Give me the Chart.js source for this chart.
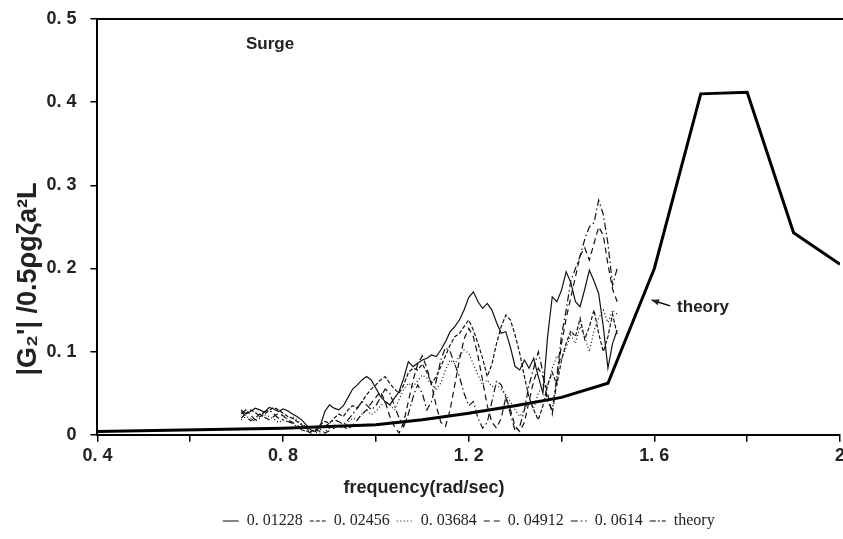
<!DOCTYPE html>
<html>
<head>
<meta charset="utf-8">
<script src="https://cdn.jsdelivr.net/npm/chart.js@4.4.1/dist/chart.umd.min.js"></script>
<style>
  html, body { margin: 0; padding: 0; background: #fff; overflow: hidden; }
  #wrap { width: 848px; height: 539px; }
</style>
</head>
<body>
<div id="wrap"><canvas id="surgeChart" width="848" height="539"></canvas></div>
<script>
// frequencies of the measured curves (rad/sec)
const freqExp = [
  0.71, 0.72, 0.73, 0.74, 0.75, 0.76, 0.77, 0.78, 0.79, 0.80,
  0.81, 0.82, 0.83, 0.84, 0.85, 0.86, 0.87, 0.88, 0.89, 0.90,
  0.91, 0.92, 0.93, 0.94, 0.95, 0.96, 0.97, 0.98, 0.99, 1.00,
  1.01, 1.02, 1.03, 1.04, 1.05, 1.06, 1.07, 1.08, 1.09, 1.10,
  1.11, 1.12, 1.13, 1.14, 1.15, 1.16, 1.17, 1.18, 1.19, 1.20,
  1.21, 1.22, 1.23, 1.24, 1.25, 1.26, 1.27, 1.28, 1.29, 1.30,
  1.31, 1.32, 1.33, 1.34, 1.35, 1.36, 1.37, 1.38, 1.39, 1.40,
  1.41, 1.42, 1.43, 1.44, 1.45, 1.46, 1.47, 1.48, 1.49, 1.50,
  1.51, 1.52
];

const amp01228 = [
  0.030, 0.025, 0.028, 0.032, 0.030, 0.027, 0.033, 0.031, 0.028, 0.031,
  0.029, 0.025, 0.022, 0.018, 0.012, 0.006, 0.004, 0.010, 0.028, 0.036,
  0.032, 0.030, 0.035, 0.045, 0.055, 0.060, 0.066, 0.070, 0.066, 0.056,
  0.046, 0.040, 0.036, 0.044, 0.052, 0.068, 0.088, 0.082, 0.086, 0.090,
  0.092, 0.096, 0.094, 0.102, 0.112, 0.124, 0.130, 0.138, 0.150, 0.165,
  0.172, 0.160, 0.152, 0.158, 0.150, 0.135, 0.122, 0.124, 0.105, 0.082,
  0.078, 0.090, 0.080, 0.092, 0.070, 0.050, 0.118, 0.166, 0.160, 0.174,
  0.196, 0.183, 0.160, 0.154, 0.175, 0.198, 0.185, 0.170, 0.130, 0.080,
  0.110, 0.126
];

const amp02456 = [
  0.020, 0.026, 0.030, 0.027, 0.022, 0.025, 0.029, 0.033, 0.030, 0.026,
  0.022, 0.020, 0.016, 0.012, 0.008, 0.004, 0.006, 0.012, 0.016, 0.014,
  0.020, 0.025, 0.022, 0.030, 0.035, 0.032, 0.040, 0.048, 0.055, 0.060,
  0.066, 0.070, 0.062, 0.055, 0.050, 0.060, 0.075, 0.080, 0.078, 0.085,
  0.075, 0.062, 0.070, 0.082, 0.095, 0.108, 0.118, 0.122, 0.130, 0.138,
  0.126, 0.110, 0.092, 0.070, 0.085, 0.110, 0.130, 0.144, 0.138, 0.120,
  0.098, 0.070, 0.045, 0.030, 0.018, 0.035, 0.060, 0.075, 0.060, 0.090,
  0.110, 0.125, 0.118, 0.140, 0.115, 0.130, 0.150, 0.122, 0.100, 0.118,
  0.145, 0.120
];

const amp03684 = [
  0.018, 0.022, 0.020, 0.016, 0.020, 0.024, 0.022, 0.019, 0.015, 0.017,
  0.020, 0.022, 0.018, 0.013, 0.010, 0.006, 0.003, 0.002, 0.004, 0.008,
  0.012, 0.010, 0.008, 0.015, 0.020, 0.018, 0.025, 0.030, 0.024, 0.028,
  0.035, 0.040, 0.036, 0.030, 0.042, 0.055, 0.062, 0.058, 0.065, 0.072,
  0.068, 0.060, 0.055, 0.062, 0.078, 0.090, 0.085, 0.095, 0.102, 0.098,
  0.085, 0.072, 0.060, 0.066, 0.058, 0.060, 0.055, 0.048, 0.040, 0.030,
  0.022, 0.030, 0.040, 0.032, 0.050, 0.060, 0.058, 0.080, 0.095, 0.090,
  0.105, 0.120, 0.110, 0.130, 0.118, 0.100, 0.125, 0.140, 0.150, 0.135,
  0.150, 0.145
];

const amp04912 = [
  0.028, 0.022, 0.017, 0.020, 0.025, 0.021, 0.018, 0.022, 0.026, 0.023,
  0.018, 0.015, 0.012, 0.008, 0.005, 0.002, 0.006, 0.004, 0.002, 0.005,
  0.008, 0.012, 0.010, 0.006, 0.012, 0.018, 0.025, 0.030, 0.038, 0.045,
  0.052, 0.040, 0.022, 0.010, 0.002, 0.015, 0.040, 0.065, 0.085, 0.095,
  0.080, 0.060, 0.035, 0.015, 0.010, 0.030, 0.060, 0.090, 0.115, 0.128,
  0.118, 0.095, 0.065, 0.035, 0.015, 0.008, 0.020, 0.045, 0.030, 0.010,
  0.004, 0.015, 0.040, 0.065, 0.080, 0.070, 0.050, 0.025, 0.065, 0.110,
  0.140, 0.165, 0.190, 0.215, 0.225, 0.210, 0.230, 0.250, 0.240, 0.205,
  0.175, 0.160
];

const amp0614 = [
  0.025, 0.030, 0.024, 0.018, 0.022, 0.028, 0.030, 0.025, 0.020, 0.018,
  0.016, 0.014, 0.010, 0.006, 0.004, 0.008, 0.010, 0.006, 0.010, 0.014,
  0.018, 0.016, 0.012, 0.018, 0.025, 0.032, 0.040, 0.036, 0.030, 0.035,
  0.045, 0.055, 0.050, 0.035, 0.020, 0.010, 0.025, 0.045, 0.060, 0.050,
  0.030, 0.040, 0.065, 0.090, 0.105, 0.100, 0.085, 0.070, 0.050, 0.035,
  0.040, 0.020, 0.008, 0.015, 0.040, 0.065, 0.060, 0.045, 0.025, 0.005,
  0.010, 0.030, 0.060, 0.080, 0.100, 0.075, 0.040, 0.030, 0.070, 0.120,
  0.150, 0.185, 0.200, 0.215, 0.235, 0.250, 0.255, 0.282, 0.265, 0.230,
  0.180, 0.200
];

// theory curve
const freqTheory = [0.4, 0.8, 1.0, 1.1, 1.2, 1.3, 1.4, 1.5, 1.6, 1.7, 1.8, 1.9, 2.0];
const ampTheory = [0.004, 0.008, 0.012, 0.018, 0.026, 0.035, 0.045, 0.062, 0.200, 0.410, 0.412, 0.243, 0.205];

const seriesNames = ["0. 01228", "0. 02456", "0. 03684", "0. 04912", "0. 0614"];
const seriesValues = [amp01228, amp02456, amp03684, amp04912, amp0614];
const seriesDash = [[], [4, 2], [1, 2.5], [6, 4], [7, 3, 1.5, 3]];

const sans = '"Liberation Sans", Arial, sans-serif';
const serif = '"Liberation Serif", "Times New Roman", serif';

const toPoints = (xs, ys) => xs.map((x, i) => ({ x: x, y: ys[i] }));

const datasets = seriesNames.map((name, i) => ({
  label: name,
  data: toPoints(freqExp, seriesValues[i]),
  borderColor: "#111",
  borderWidth: 1.2,
  borderDash: seriesDash[i],
  pointRadius: 0,
  tension: 0,
  fill: false,
}));

datasets.push({
  label: "theory",
  data: toPoints(freqTheory, ampTheory),
  borderColor: "#000",
  borderWidth: 3,
  pointRadius: 0,
  tension: 0,
  fill: false,
});

// frame line on top plus the "Surge" and "theory" notes
const surgeNotes = {
  id: "surgeNotes",
  afterDatasetsDraw(chart) {
    const { ctx, chartArea, scales } = chart;
    const x = scales.x, y = scales.y;
    ctx.save();
    ctx.strokeStyle = "#000";
    ctx.lineWidth = 2;
    ctx.beginPath();
    ctx.moveTo(chartArea.left, chartArea.top);
    ctx.lineTo(chartArea.right + 10, chartArea.top);
    ctx.stroke();

    ctx.fillStyle = "#222";
    ctx.font = "bold 17px " + sans;
    ctx.textBaseline = "middle";
    ctx.textAlign = "left";
    ctx.fillText("Surge", x.getPixelForValue(0.72), y.getPixelForValue(0.469));
    ctx.fillText("theory", x.getPixelForValue(1.649), y.getPixelForValue(0.153));

    // arrow pointing at the theory line
    const tx = x.getPixelForValue(1.594), ty = y.getPixelForValue(0.162);
    const sx = x.getPixelForValue(1.634), sy = y.getPixelForValue(0.155);
    const ang = Math.atan2(ty - sy, tx - sx);
    ctx.lineWidth = 1.5;
    ctx.beginPath();
    ctx.moveTo(sx, sy);
    ctx.lineTo(tx, ty);
    ctx.stroke();
    ctx.beginPath();
    ctx.moveTo(tx, ty);
    ctx.lineTo(tx - 8 * Math.cos(ang - 0.4), ty - 8 * Math.sin(ang - 0.4));
    ctx.lineTo(tx - 8 * Math.cos(ang + 0.4), ty - 8 * Math.sin(ang + 0.4));
    ctx.closePath();
    ctx.fill();
    ctx.restore();
  }
};

const fmtTick = (v) => {
  const r = Math.round(v * 10);
  if (r === 0) return "0";
  if (r % 10 === 0) return String(r / 10);
  return (r / 10).toFixed(1).replace(".", ". ");
};

new Chart(document.getElementById("surgeChart"), {
  type: "line",
  data: { datasets: datasets },
  options: {
    responsive: false,
    animation: false,
    layout: { padding: { top: 19, left: 0, right: 0, bottom: 0 } },
    scales: {
      x: {
        type: "linear",
        min: 0.4,
        max: 2.0,
        border: { display: true, color: "#000", width: 2 },
        grid: { drawOnChartArea: false, drawTicks: true, tickLength: 7, color: "#000", lineWidth: 1.5 },
        ticks: {
          stepSize: 0.2,
          padding: 3,
          color: "#222",
          maxRotation: 0,
          autoSkip: false,
          font: { family: sans, size: 18, weight: "bold" },
          callback: (v) => (Math.round(v * 10) % 4 === 0 ? fmtTick(v) : ""),
        },
      },
      y: {
        min: 0,
        max: 0.5,
        border: { display: true, color: "#000", width: 2 },
        grid: { drawOnChartArea: false, drawTicks: true, tickLength: 7, color: "#000", lineWidth: 1.5 },
        afterFit: (scale) => {
          scale.width = 51;
          scale.paddingTop = 0;
          scale.paddingBottom = 0;
        },
        ticks: {
          stepSize: 0.1,
          padding: 14,
          color: "#222",
          font: { family: sans, size: 18, weight: "bold" },
          callback: (v) => fmtTick(v),
        },
      },
    },
    plugins: {
      subtitle: {
        display: true,
        position: "left",
        text: "|G\u2082'| /0.5\u03c1g\u03b6a\u00b2L",
        color: "#222",
        font: { family: sans, size: 27, weight: "bold" },
        padding: { top: 12, bottom: 2 },
      },
      title: {
        display: true,
        position: "bottom",
        weight: 100,
        text: "frequency(rad/sec)",
        color: "#222",
        font: { family: sans, size: 18, weight: "bold" },
        padding: { top: 8, bottom: 7 },
      },
      legend: {
        position: "bottom",
        fullSize: false,
        labels: {
          usePointStyle: true,
          pointStyle: "line",
          pointStyleWidth: 16,
          padding: 7,
          color: "#222",
          font: { family: serif, size: 16 },
          generateLabels(chart) {
            const items = Chart.defaults.plugins.legend.labels.generateLabels(chart);
            items.forEach((it) => {
              it.lineWidth = 1.2;
              it.lineDash = it.text === "theory" ? [6, 2, 2, 2] : seriesDash[it.datasetIndex];
            });
            return items;
          },
        },
      },
      tooltip: { enabled: false },
    },
  },
  plugins: [surgeNotes],
});
</script>
</body>
</html>
